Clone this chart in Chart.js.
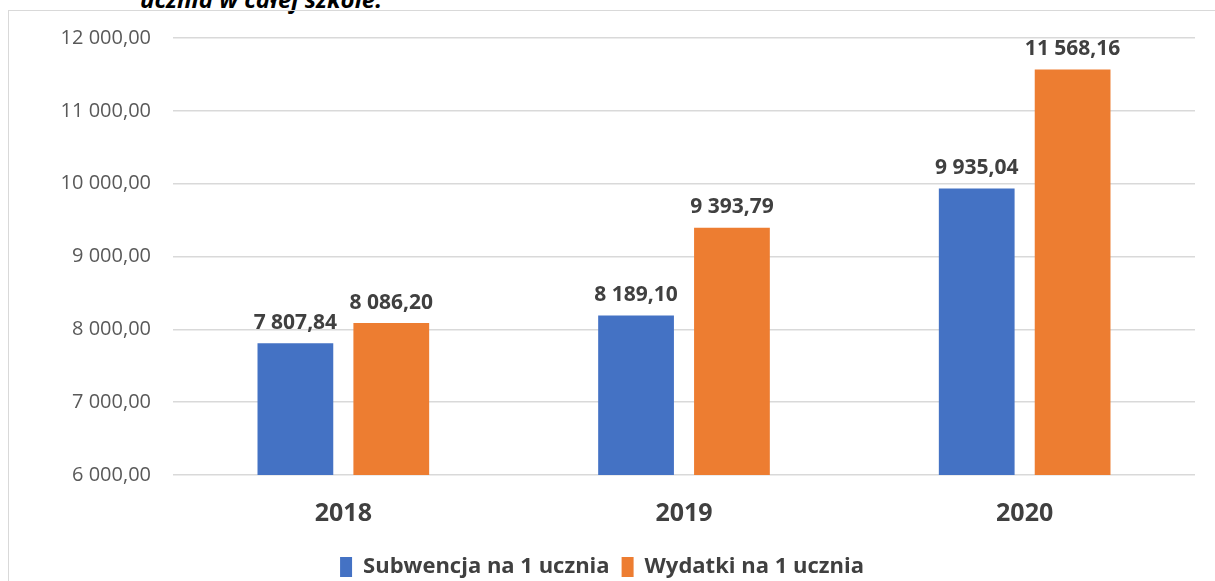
<!DOCTYPE html>
<html>
<head>
<meta charset="utf-8">
<script src="https://cdn.jsdelivr.net/npm/chart.js@4"></script>
<style>
  body { margin: 0; background: #fff; width: 1215px; height: 581px; overflow: hidden; position: relative; }
  #title { position: absolute; left: 140px; top: -18px; font: italic bold 24px "Open Sans", sans-serif; color: #000; white-space: nowrap; }
  #box { position: absolute; left: 8px; top: 10px; width: 1207px; height: 578px; border-left: 1px solid #d9d9d9; border-top: 1px solid #d9d9d9; box-sizing: border-box; }
</style>
</head>
<body>
<div id="title">ucznia w całej szkole.</div>
<div id="box"><canvas id="chart"></canvas></div>
<script>
const years = ['2018', '2019', '2020'];
const subwencja = [7807.84, 8189.10, 9935.04];
const wydatki = [8086.20, 9393.79, 11568.16];
const yTicks = [6000, 7000, 8000, 9000, 10000, 11000, 12000];

function fmt(v) {
  const parts = v.toFixed(2).split('.');
  const int = parts[0].replace(/\B(?=(\d{3})+(?!\d))/g, ' ');
  return int + ',' + parts[1];
}

const barLabels = {
  id: 'barLabels',
  afterDatasetsDraw(chart) {
    const ctx = chart.ctx;
    ctx.save();
    ctx.font = 'bold 21px "Open Sans", sans-serif';
    ctx.fillStyle = '#404040';
    ctx.textAlign = 'center';
    ctx.textBaseline = 'bottom';
    chart.data.datasets.forEach((ds, i) => {
      chart.getDatasetMeta(i).data.forEach((bar, j) => {
        ctx.fillText(fmt(ds.data[j]), bar.x, bar.y - 10);
      });
    });
    ctx.restore();
  }
};

const ctx = document.getElementById('chart').getContext('2d');
new Chart(ctx, {
  type: 'bar',
  data: {
    labels: years,
    datasets: [
      { label: 'Subwencja na 1 ucznia', data: subwencja, backgroundColor: '#4472C4' },
      { label: 'Wydatki na 1 ucznia', data: wydatki, backgroundColor: '#ED7D31' }
    ]
  },
  options: {
    responsive: true,
    maintainAspectRatio: false,
    animation: false,
    categoryPercentage: 0.563,
    barPercentage: 0.79,
    layout: { padding: { left: 0, top: 27, right: 20, bottom: 0 } },
    plugins: {
      legend: {
        position: 'bottom',
        labels: {
          boxWidth: 12,
          boxHeight: 20,
          padding: 12,
          color: '#404040',
          font: { family: '"Open Sans", sans-serif', size: 22, weight: 'bold' }
        }
      },
      tooltip: { enabled: false }
    },
    scales: {
      x: {
        grid: { display: false, drawTicks: false },
        border: { display: false },
        ticks: {
          color: '#404040',
          padding: 24,
          font: { family: '"Open Sans", sans-serif', size: 25, weight: 'bold' }
        },
        afterFit(scale) { scale.height = 69; }
      },
      y: {
        min: yTicks[0],
        max: yTicks[yTicks.length - 1],
        afterBuildTicks(scale) { scale.ticks = yTicks.map(v => ({ value: v })); },
        grid: { color: '#d9d9d9', lineWidth: 1.5, drawTicks: false },
        border: { display: false },
        ticks: {
          color: '#595959',
          padding: 22,
          font: { family: '"Open Sans", sans-serif', size: 20 },
          callback: v => fmt(v)
        },
        afterFit(scale) {
          scale.width = 164;
          scale.paddingTop = 0;
          scale.paddingBottom = 0;
        }
      }
    }
  },
  plugins: [barLabels]
});
</script>
</body>
</html>
